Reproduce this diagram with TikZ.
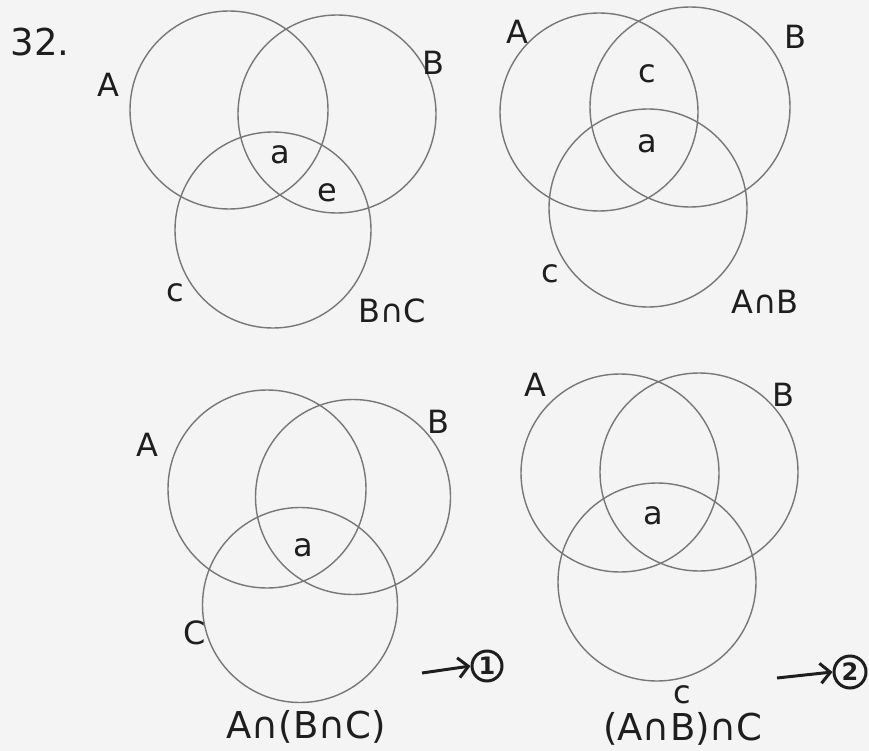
\documentclass[tikz,border=0pt]{standalone}
\usepackage{fontspec}
\setmainfont{DejaVu Sans}
\usetikzlibrary{arrows.meta}
\definecolor{ink}{HTML}{1E1E1E}
\definecolor{pen}{HTML}{777777}
\definecolor{paper}{HTML}{F4F4F4}
\tikzset{
  vcirc/.style={circle, draw=pen, line width=1.4pt, inner sep=0pt, minimum size=#1},
  lbl/.style={text=ink, inner sep=0pt, font=\fontsize{32}{38}\selectfont},
  biglbl/.style={text=ink, inner sep=0pt, font=\fontsize{37}{44}\selectfont},
  numcirc/.style={circle, draw=ink, line width=3pt, inner sep=0pt, minimum size=30pt, text=ink, font=\fontsize{24}{28}\selectfont\bfseries},
  penarrow/.style={draw=ink, line width=3pt, -{Straight Barb[length=10pt,width=20pt,line width=3pt]}}
}
\begin{document}
\begin{tikzpicture}[x=1pt,y=-1pt]
\useasboundingbox[fill=paper] (0,0) rectangle (869,751);
% ---- Diagram 1: B cap C
\node[vcirc=198pt] (A1) at (229,110) {};
\node[vcirc=198pt] (B1) at (337,114) {};
\node[vcirc=196pt] (C1) at (273,230) {};
\node[biglbl] (n32) at (40,42) {32.};
\node[lbl] (A1l) at (108,85) {A};
\node[lbl] (B1l) at (433,63) {B};
\node[lbl] (a1) at (280,155) {a};
\node[lbl] (e1) at (327,193) {e};
\node[lbl] (c1) at (175,293) {c};
\node[lbl] (t1) at (392,311) {B∩C};
% ---- Diagram 2: A cap B
\node[vcirc=198pt] (A2) at (599,112) {};
\node[vcirc=200pt] (B2) at (690,107) {};
\node[vcirc=198pt] (C2) at (648,208) {};
\node[lbl] (A2l) at (517,32) {A};
\node[lbl] (B2l) at (795,37) {B};
\node[lbl] (c2a) at (647,74) {c};
\node[lbl] (a2) at (647,144) {a};
\node[lbl] (c2) at (550,274) {c};
\node[lbl] (t2) at (765,302) {A∩B};
% ---- Diagram 3: A cap (B cap C)
\node[vcirc=198pt] (A3) at (267,489) {};
\node[vcirc=195pt] (B3) at (353,497) {};
\node[vcirc=195pt] (C3) at (300,605) {};
\node[lbl] (A3l) at (147,445) {A};
\node[lbl] (B3l) at (438,422) {B};
\node[lbl] (a3) at (303,548) {a};
\node[lbl] (C3l) at (195,633) {C};
\node[biglbl] (t3) at (306,727) {A∩(B∩C)};
\coordinate (s1) at (422,673);
\node[numcirc] (m1) at (487,666) {1};
\draw[penarrow] (s1) -- (m1.west);
% ---- Diagram 4: (A cap B) cap C
\node[vcirc=198pt] (A4) at (620,473) {};
\node[vcirc=198pt] (B4) at (699,472) {};
\node[vcirc=198pt] (C4) at (657,582) {};
\node[lbl] (A4l) at (535,385) {A};
\node[lbl] (B4l) at (783,395) {B};
\node[lbl] (a4) at (653,516) {a};
\node[lbl] (c4) at (682,695) {c};
\node[biglbl] (t4) at (683,729) {(A∩B)∩C};
\coordinate (s2) at (777,678);
\node[numcirc, minimum size=32pt] (m2) at (850,672) {2};
\draw[penarrow] (s2) -- (m2.west);
\end{tikzpicture}
\end{document}
